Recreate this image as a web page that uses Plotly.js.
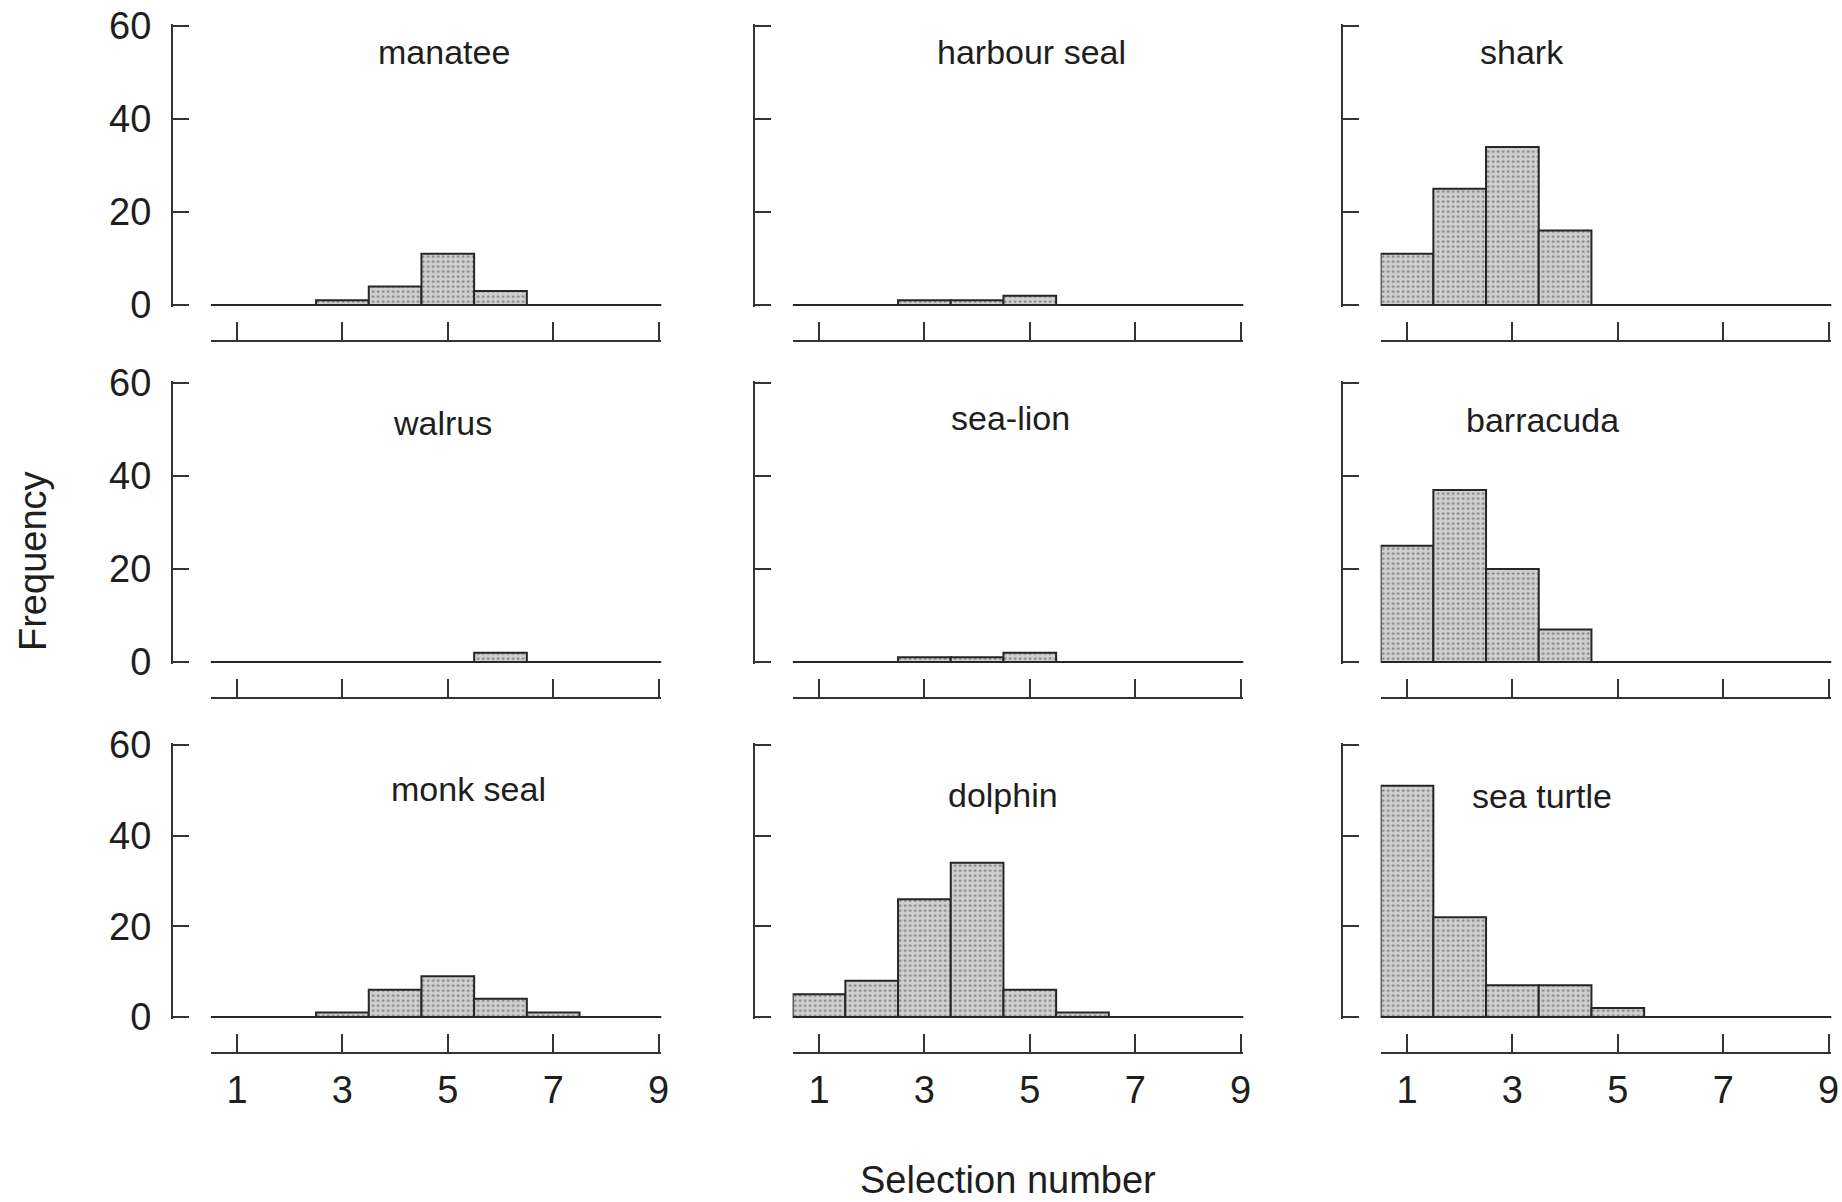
<!DOCTYPE html>
<html>
<head>
<meta charset="utf-8">
<script src="https://cdn.plot.ly/plotly-3.0.1.min.js"></script>
<style>html,body{margin:0;padding:0;background:#fff;}#chart{width:1842px;height:1202px;}</style>
</head>
<body>
<div id="chart"></div>
<script>
// ---- data ----
const selectionNumbers = [1, 2, 3, 4, 5, 6, 7, 8, 9];
const panelNames = ["manatee", "harbour seal", "shark", "walrus", "sea-lion", "barracuda", "monk seal", "dolphin", "sea turtle"];
const manatee     = [0, 0, 1, 4, 11, 3, 0, 0, 0];
const harbourSeal = [0, 0, 1, 1, 2, 0, 0, 0, 0];
const shark       = [11, 25, 34, 16, 0, 0, 0, 0, 0];
const walrus      = [0, 0, 0, 0, 0, 2, 0, 0, 0];
const seaLion     = [0, 0, 1, 1, 2, 0, 0, 0, 0];
const barracuda   = [25, 37, 20, 7, 0, 0, 0, 0, 0];
const monkSeal    = [0, 0, 1, 6, 9, 4, 1, 0, 0];
const dolphin     = [5, 8, 26, 34, 6, 1, 0, 0, 0];
const seaTurtle   = [51, 22, 7, 7, 2, 0, 0, 0, 0];
const xTickVals = [1, 3, 5, 7, 9];
const yTickVals = [0, 20, 40, 60];
const xAxisTitle = "Selection number";
const yAxisTitle = "Frequency";

const series = [manatee, harbourSeal, shark, walrus, seaLion, barracuda, monkSeal, dolphin, seaTurtle];

// ---- layout geometry (pixels) ----
const W = 1842, H = 1202;
const unit = 52.7;
const colTick1 = [237, 819, 1407];   // pixel x of value 1
const rowTop = [26, 383, 745];       // pixel y of 60
const rowZero = [305, 662, 1017];    // pixel y of 0
const lowerGap = 36;
const yAxisGap = 65;
const pad = 0.4;                     // small range padding so end ticks are drawn
const titlePos = [[4.93, 54.5], [5.04, 54.5], [3.19, 54.5], [4.9, 51.5], [4.64, 52.5], [3.57, 52], [5.4, 50.3], [4.49, 49], [3.57, 48.8]];

const FONT = "Liberation Sans, Arial, Helvetica, sans-serif";
const INK = "#1e1e1e";
const LINE = "#333333";

const traces = [];
const layout = {
  width: W, height: H,
  margin: {l: 0, r: 0, t: 0, b: 0},
  paper_bgcolor: "#ffffff",
  plot_bgcolor: "rgba(0,0,0,0)",
  showlegend: false,
  bargap: 0,
  font: {family: FONT, color: INK},
  annotations: []
};

for (let i = 0; i < 9; i++) {
  const r = Math.floor(i / 3), c = i % 3;
  const sfx = i === 0 ? "" : String(i + 1);
  const xa = "x" + sfx, ya = "y" + sfx;
  const t1 = colTick1[c];
  const x0 = t1 - 0.5 * unit, x1 = t1 + 8.05 * unit;
  const ppu = (rowZero[r] - rowTop[r]) / 60;
  const yBot = rowZero[r] + pad * ppu, yTop = rowTop[r] - pad * ppu;

  traces.push({
    type: "bar",
    x: selectionNumbers,
    y: series[i],
    width: 1,
    xaxis: xa, yaxis: ya,
    marker: {
      color: "#cacaca",
      line: {color: "#262626", width: 2},
      pattern: {shape: ".", fillmode: "replace", bgcolor: "#d0d0d0", fgcolor: "#858585", size: 5, solidity: 0.22}
    },
    hoverinfo: "x+y"
  });

  layout["xaxis" + sfx] = {
    domain: [x0 / W, x1 / W],
    range: [0.5, 9.05],
    anchor: "free",
    position: 1 - (rowZero[r] + lowerGap) / H,
    showline: true, linecolor: LINE, linewidth: 2,
    ticks: "inside", ticklen: 18, tickwidth: 2, tickcolor: LINE,
    tickvals: xTickVals,
    showticklabels: r === 2,
    ticklabelstandoff: 3,
    tickfont: {family: FONT, size: 38, color: INK},
    showgrid: false, zeroline: false, fixedrange: true
  };

  layout["yaxis" + sfx] = {
    domain: [1 - yBot / H, 1 - yTop / H],
    range: [-pad, 60 + pad],
    anchor: "free",
    position: (t1 - yAxisGap) / W,
    showline: true, linecolor: LINE, linewidth: 2,
    ticks: "inside", ticklen: 16, tickwidth: 2, tickcolor: LINE,
    tickvals: yTickVals,
    showticklabels: c === 0,
    ticklabelstandoff: 12,
    tickfont: {family: FONT, size: 38, color: INK},
    showgrid: false,
    zeroline: true, zerolinecolor: LINE, zerolinewidth: 2,
    fixedrange: true
  };

  layout.annotations.push({
    text: panelNames[i],
    xref: xa, yref: ya,
    x: titlePos[i][0], y: titlePos[i][1],
    xanchor: "center", yanchor: "middle",
    showarrow: false,
    font: {family: FONT, size: 34, color: INK}
  });
}

layout.annotations.push({
  text: yAxisTitle, xref: "paper", yref: "paper",
  x: 33 / W, y: 1 - 561 / H, xanchor: "center", yanchor: "middle",
  textangle: -90, showarrow: false,
  font: {family: FONT, size: 38, color: INK}
});
layout.annotations.push({
  text: xAxisTitle, xref: "paper", yref: "paper",
  x: 1008 / W, y: 1 - 1180 / H, xanchor: "center", yanchor: "middle",
  showarrow: false,
  font: {family: FONT, size: 38, color: INK}
});

Plotly.newPlot("chart", traces, layout, {displayModeBar: false, staticPlot: true});
</script>
</body>
</html>
